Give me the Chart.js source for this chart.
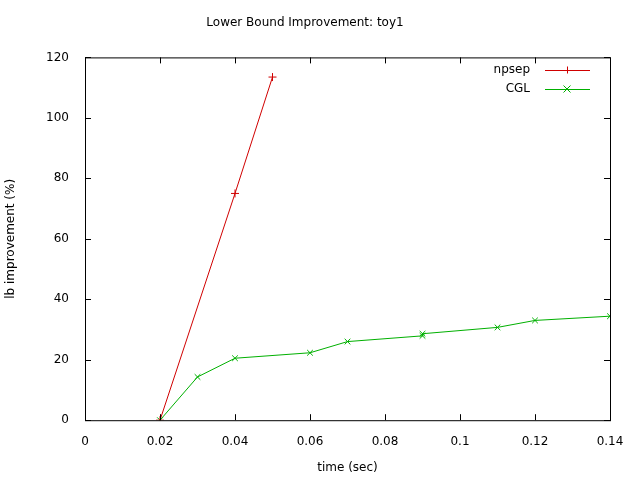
<!DOCTYPE html>
<html>
<head>
<meta charset="utf-8">
<script src="https://cdn.jsdelivr.net/npm/chart.js@4"></script>
<style>body{margin:0;background:#fff}</style>
</head>
<body>
<canvas id="c" width="640" height="480"></canvas>
<script>
const npsepX = [0.02, 0.04, 0.05];
const npsepY = [0, 75, 113.5];
const cglX = [0.02, 0.03, 0.04, 0.06, 0.07, 0.09, 0.09, 0.11, 0.12, 0.14];
const cglY = [0, 14.3, 20.5, 22.3, 26.0, 27.9, 28.6, 30.7, 33.0, 34.4];
const xTicks = [0, 0.02, 0.04, 0.06, 0.08, 0.1, 0.12, 0.14];
const yTicks = [0, 20, 40, 60, 80, 100, 120];

const pts = (xs, ys) => xs.map((x, i) => ({ x, y: ys[i] }));
const font = { family: 'DejaVu Sans', size: 12, weight: 'normal' };

const frame = {
  id: 'frame',
  afterDraw(chart) {
    const { ctx, chartArea: a, scales } = chart;
    ctx.save();
    ctx.strokeStyle = '#000';
    ctx.lineWidth = 1;
    ctx.strokeRect(a.left + 0.5, a.top + 0.5, a.right - a.left, a.bottom - a.top);
    ctx.beginPath();
    xTicks.forEach(v => {
      const p = Math.round(scales.x.getPixelForValue(v)) + 0.5;
      ctx.moveTo(p, a.bottom); ctx.lineTo(p, a.bottom - 6);
      ctx.moveTo(p, a.top); ctx.lineTo(p, a.top + 6);
    });
    yTicks.forEach(v => {
      const p = Math.round(scales.y.getPixelForValue(v)) + 0.5;
      ctx.moveTo(a.left, p); ctx.lineTo(a.left + 6, p);
      ctx.moveTo(a.right, p); ctx.lineTo(a.right - 6, p);
    });
    ctx.stroke();
    // legend: text then sample line
    ctx.font = '12px DejaVu Sans';
    ctx.textAlign = 'right';
    ctx.textBaseline = 'middle';
    chart.data.datasets.forEach((ds, i) => {
      const y = 70 + i * 19;
      ctx.fillStyle = '#000';
      ctx.fillText(ds.label, 530, y);
      ctx.strokeStyle = ds.borderColor;
      ctx.beginPath();
      ctx.moveTo(545, y + 0.5); ctx.lineTo(590, y + 0.5);
      const m = 567, r = 3.5;
      if (ds.pointStyle === 'cross') {
        ctx.moveTo(m - r, y + 0.5); ctx.lineTo(m + r, y + 0.5);
        ctx.moveTo(m + 0.5, y - r); ctx.lineTo(m + 0.5, y + r);
      } else {
        ctx.moveTo(m - r, y - r); ctx.lineTo(m + r, y + r);
        ctx.moveTo(m + r, y - r); ctx.lineTo(m - r, y + r);
      }
      ctx.stroke();
    });
    ctx.restore();
  }
};

new Chart(document.getElementById('c'), {
  type: 'scatter',
  data: {
    datasets: [
      { label: 'npsep', data: pts(npsepX, npsepY), showLine: true, borderColor: '#d00000',
        pointStyle: 'cross', pointRadius: 4, borderWidth: 1, pointBorderColor: '#d00000' },
      { label: 'CGL', data: pts(cglX, cglY), showLine: true, borderColor: '#00b000',
        pointStyle: 'crossRot', pointRadius: 4, borderWidth: 1, pointBorderColor: '#00b000' }
    ]
  },
  options: {
    responsive: false,
    devicePixelRatio: 1,
    animation: false,
    layout: { padding: { top: 0, right: 30, bottom: 1, left: 0 } },
    plugins: {
      legend: { display: false },
      tooltip: { enabled: false },
      title: { display: true, text: 'Lower Bound Improvement: toy1', color: '#000',
        font: font, padding: { top: 16, bottom: 27 } }
    },
    scales: {
      x: {
        type: 'linear', min: 0, max: 0.14,
        afterBuildTicks: s => { s.ticks = xTicks.map(v => ({ value: v })); },
        ticks: { color: '#000', font: font, padding: 6, callback: v => String(Number(v.toFixed(2))) },
        grid: { display: false }, border: { display: false },
        title: { display: true, text: 'time (sec)', color: '#000', font: font, padding: { top: 6 } }
      },
      y: {
        min: 0, max: 120,
        afterBuildTicks: s => { s.ticks = yTicks.map(v => ({ value: v })); },
        afterFit: s => { s.width = 85; },
        ticks: { color: '#000', font: font, padding: 8 },
        grid: { display: false }, border: { display: false },
        title: { display: true, text: 'lb improvement (%)', color: '#000', font: font }
      }
    }
  },
  plugins: [frame]
});
</script>
</body>
</html>
